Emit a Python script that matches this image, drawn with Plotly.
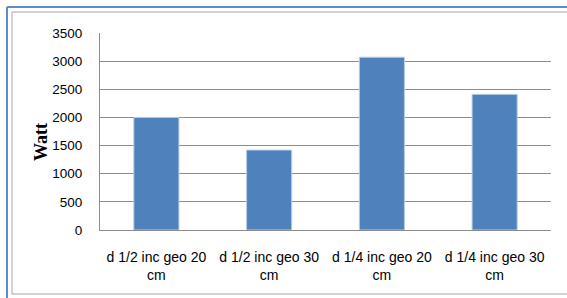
import plotly.graph_objects as go

categories = ["d 1/2 inc geo 20<br>cm", "d 1/2 inc geo 30<br>cm",
              "d 1/4 inc geo 20<br>cm", "d 1/4 inc geo 30<br>cm"]
watts = [2000, 1420, 3070, 2410]
y_ticks = [0, 500, 1000, 1500, 2000, 2500, 3000, 3500]
y_title = "Watt"

W, H = 567, 298
L, R, T, B = 100, 16, 33, 68
pw, ph = W - L - R, H - T - B

def px_x(p):
    return (p - L) / pw

def px_y(p):
    return (H - B - p) / ph

fig = go.Figure(go.Bar(
    x=categories, y=watts, width=0.4,
    marker=dict(color="#4F81BD", line=dict(color="#B9CDE5", width=1)),
))

shapes = [
    # outer blue frame
    dict(type="line", xref="paper", yref="paper", x0=px_x(7), x1=px_x(570), y0=px_y(7), y1=px_y(7),
         line=dict(color="#5B8BD0", width=2)),
    dict(type="line", xref="paper", yref="paper", x0=px_x(7), x1=px_x(7), y0=px_y(7), y1=px_y(300),
         line=dict(color="#5B8BD0", width=2)),
    # inner gray frame
    dict(type="line", xref="paper", yref="paper", x0=px_x(12), x1=px_x(570), y0=px_y(12), y1=px_y(12),
         line=dict(color="#A6A6A6", width=1)),
    dict(type="line", xref="paper", yref="paper", x0=px_x(12), x1=px_x(12), y0=px_y(12), y1=px_y(294),
         line=dict(color="#A6A6A6", width=1)),
    dict(type="line", xref="paper", yref="paper", x0=px_x(12), x1=px_x(570), y0=px_y(294), y1=px_y(294),
         line=dict(color="#A6A6A6", width=1)),
]

annotations = [
    dict(text="<b>" + y_title + "</b>", textangle=-90, xref="paper", yref="paper",
         x=px_x(41), y=px_y(142), xanchor="center", yanchor="middle", showarrow=False,
         font=dict(family="Liberation Serif, Times New Roman, serif", size=18, color="#000000")),
]

fig.update_layout(
    width=W, height=H,
    margin=dict(l=L, r=R, t=T, b=B, autoexpand=False),
    paper_bgcolor="white", plot_bgcolor="white",
    showlegend=False,
    shapes=shapes,
    annotations=annotations,
    font=dict(family="Liberation Sans, Arial, sans-serif", color="#000000"),
    xaxis=dict(
        showgrid=False, showline=True, linecolor="#8C8C8C", linewidth=1,
        ticks="", tickfont=dict(size=14), ticklabelstandoff=14,
        automargin=False,
    ),
    yaxis=dict(
        range=[0, 3500], tickvals=y_ticks, ticks="",
        showgrid=True, gridcolor="#8C8C8C", gridwidth=1,
        showline=True, linecolor="#8C8C8C", linewidth=1,
        zeroline=False,
        tickfont=dict(size=13.5), ticklabelstandoff=14,
        automargin=False,
    ),
)

fig.write_html("out.html", config={"displayModeBar": False},
               post_script="document.body.style.margin='0';")
